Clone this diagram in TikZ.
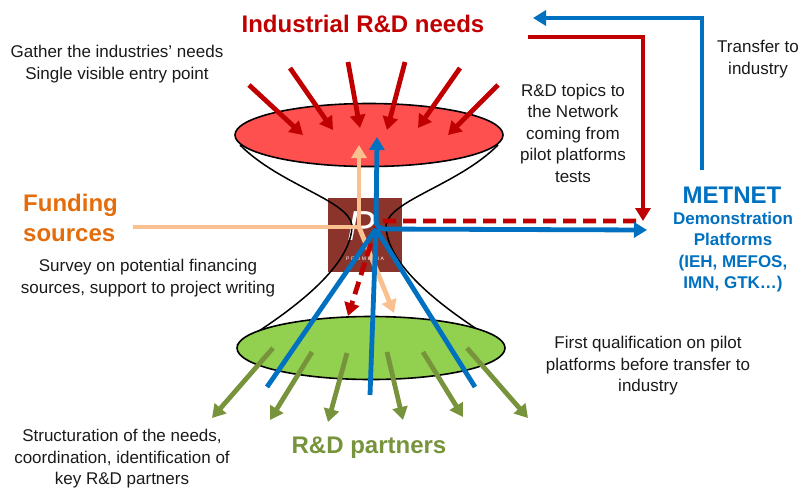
\documentclass[tikz,border=0pt]{standalone}
\usepackage{fontspec}
\setmainfont{Liberation Sans}
\usetikzlibrary{arrows.meta,shapes.geometric}
\definecolor{cred}{HTML}{C00000}
\definecolor{cpink}{HTML}{FF5050}
\definecolor{cgreen}{HTML}{92D050}
\definecolor{colive}{HTML}{77933C}
\definecolor{cblue}{HTML}{0070C0}
\definecolor{cpeach}{HTML}{FAC090}
\definecolor{corange}{HTML}{E46C0A}
\definecolor{cbox}{RGB}{138,52,44}
\definecolor{ctext}{HTML}{1A1A1A}
\begin{document}
\begin{tikzpicture}[x=1pt,y=-1pt,
  body/.style={font=\fontsize{17}{21.5}\selectfont, text=ctext, align=center, inner sep=0pt},
  big/.style={font=\fontsize{24}{30}\selectfont\bfseries, inner sep=0pt, align=center},
  tipA/.style={-{Triangle[length=13pt,width=15pt]}},
  thick5/.style={line width=4.8pt},
  redarr/.style={thick5, cred, tipA},
  greenarr/.style={thick5, colive, tipA},
  bluel/.style={thick5, cblue},
  peachl/.style={thick5, cpeach},
  hourglass/.style={draw=black, line width=1.5pt},
  lens/.style={ellipse, draw=black, line width=1.6pt, minimum width=268pt, minimum height=63pt, inner sep=0pt}
]
\useasboundingbox (0,0) rectangle (803,488);

% central logo box
\node[fill=cbox, minimum width=74pt, minimum height=74pt, inner sep=0pt] (box) at (365,235) {};
\node[text=white, font=\fontsize{42}{42}\selectfont\itshape, inner sep=0pt] (logoP) at (362,226) {P};
\node[text=white, font=\fontsize{5}{6}\selectfont, inner sep=0pt] (logo) at (365,259) {P\,\,R\,\,O\,\,M\,\,E\,\,T\,\,I\,\,A};

% hourglass sides
\draw[hourglass] (240,145) .. controls (280,185) and (348,200) .. (352,225)
                           .. controls (352,260) and (310,300) .. (237,345);
\draw[hourglass] (498,145) .. controls (458,185) and (390,200) .. (386,225)
                           .. controls (386,260) and (428,300) .. (502,345);

% ellipses
\node[lens, fill=cpink] (topE) at (369,135) {};
\node[lens, fill=cgreen] (botE) at (371,348) {};

% red incoming arrows
\foreach \i/\sx/\sy/\ex/\ey in {1/249/85/303/135, 2/290/68/333/130, 3/348/62/360/128,
                                4/405/62/387/130, 5/460/68/418/128, 6/498/85/448/135}{
  \coordinate (rs\i) at (\sx,\sy);
  \coordinate (re\i) at (\ex,\ey);
  \draw[redarr] (rs\i) -- (re\i);
}

% green outgoing arrows
\foreach \i/\sx/\sy/\ex/\ey in {1/273/348/212/418, 2/312/352/270/420, 3/347/353/328/422,
                                4/387/352/403/420, 5/423/352/463/417, 6/467/348/528/418}{
  \coordinate (gs\i) at (\sx,\sy);
  \coordinate (ge\i) at (\ex,\ey);
  \draw[greenarr] (gs\i) -- (ge\i);
}

% coordinates of connectors
\coordinate (p0) at (133,227);
\coordinate (pj) at (359,227);
\coordinate (pt) at (359,145);
\coordinate (pb) at (394,313);

\coordinate (ra) at (528,37);
\coordinate (rb) at (643,37);
\coordinate (rc) at (643,221);
\coordinate (rd) at (636,221);
\coordinate (rj) at (378,221);
\coordinate (re) at (348,316);

\coordinate (bj) at (376,229);
\coordinate (bt) at (377,137);
\coordinate (br) at (647,230);
\coordinate (bl1) at (267,387);
\coordinate (bl2) at (370,395);
\coordinate (bl3) at (475,387);

\coordinate (ua) at (702,170);
\coordinate (ub) at (702,18);
\coordinate (uc) at (533,18);

% peach funding lines
\draw[peachl] (p0) -- (pj);
\draw[peachl, tipA] (pj) -- (pt);
\draw[peachl, tipA] (pj) -- (pb);

% red R&D topics path
\draw[thick5, cred, tipA] (ra) -- (rb) -- (rc);
\draw[thick5, cred, dash pattern=on 13pt off 7pt, rounded corners=6pt, tipA] (rd) -- (rj) -- (re);

% blue lines
\draw[bluel, rounded corners=8pt, {Triangle[length=13pt,width=15pt]}-{Triangle[length=13pt,width=15pt]}] (bt) -- (bj) -- (br);
\draw[bluel] (bj) -- (bl1);
\draw[bluel] (bj) -- (bl2);
\draw[bluel] (bj) -- (bl3);
\draw[bluel, tipA] (ua) -- (ub) -- (uc);

% texts
\node[big, text=cred] (title) at (363,24) {Industrial R\&D needs};
\node[body] (gather) at (117,64) {Gather the industries’ needs\\Single visible entry point};
\node[body] (topics) at (573,133) {R\&D topics to\\the Network\\coming from\\pilot platforms\\tests};
\node[body] (transfer) at (758,59) {Transfer to\\industry};
\node[big, text=cblue] (metnet) at (732,195) {METNET};
\node[inner sep=0pt, align=center, text=cblue, font=\fontsize{17}{21.3}\selectfont\bfseries] (demo) at (733,252) {Demonstration\\Platforms\\(IEH, MEFOS,\\IMN, GTK…)};
\node[big, text=corange, align=left, anchor=west] (funding) at (23,218) {Funding\\sources};
\node[body] (survey) at (148,278) {Survey on potential financing\\sources, support to project writing};
\node[body] (first) at (648,366) {First qualification on pilot\\platforms before transfer to\\industry};
\node[body] (struct) at (122,459) {Structuration of the needs,\\coordination, identification of\\key R\&D partners};
\node[big, text=colive] (partners) at (369,448) {R\&D partners};
\end{tikzpicture}
\end{document}
